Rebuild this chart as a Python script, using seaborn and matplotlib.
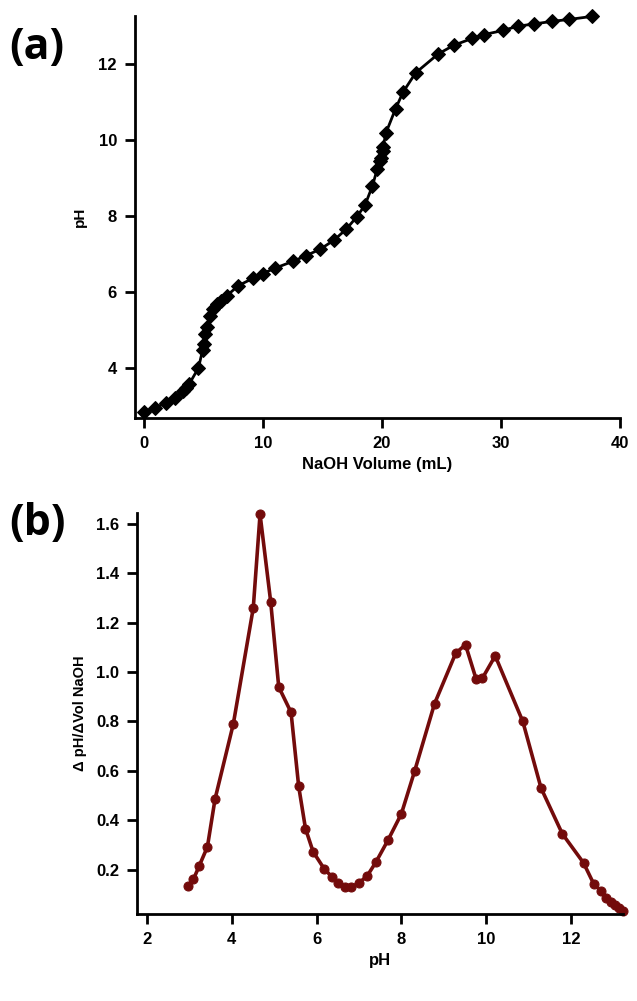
import pandas as pd
import matplotlib.pyplot as plt
import seaborn as sns
from matplotlib.ticker import FormatStrFormatter

sns.set_style("ticks")
plt.rcParams['font.family'] = ['Liberation Sans', 'DejaVu Sans']
plt.rcParams['text.color'] = 'black'
plt.rcParams['axes.labelcolor'] = 'black'
plt.rcParams['xtick.color'] = 'black'
plt.rcParams['ytick.color'] = 'black'

# (a) titration curve
naoh_volume = [0.0, 0.92, 1.85, 2.6, 3.3, 3.55, 3.8, 4.57, 4.93, 5.04, 5.13, 5.32, 5.55, 5.83,
               6.16, 6.44, 6.94, 7.92, 9.13, 9.97, 11.0, 12.5, 13.6, 14.8, 15.97, 17.0, 17.87,
               18.57, 19.2, 19.6, 19.83, 19.9, 20.05, 20.1, 20.34, 21.15, 21.79, 22.83, 24.73,
               26.05, 27.6, 28.57, 30.2, 31.4, 32.77, 34.34, 35.74, 37.67]
ph_curve = [2.83, 2.94, 3.07, 3.2, 3.38, 3.47, 3.57, 3.99, 4.47, 4.62, 4.89, 5.06, 5.37, 5.54,
            5.68, 5.76, 5.89, 6.16, 6.35, 6.48, 6.62, 6.8, 6.95, 7.12, 7.36, 7.65, 7.97,
            8.28, 8.79, 9.23, 9.45, 9.52, 9.71, 9.82, 10.19, 10.83, 11.27, 11.77, 12.27,
            12.5, 12.68, 12.78, 12.89, 13.0, 13.06, 13.13, 13.18, 13.26]

# (b) first derivative vs pH
ph_mid = [2.98, 3.10, 3.24, 3.43, 3.61, 4.04, 4.51, 4.67, 4.92, 5.11, 5.40, 5.58, 5.74, 5.92,
          6.18, 6.37, 6.51, 6.67, 6.82, 7.0, 7.19, 7.40, 7.69, 8.0, 8.31, 8.78, 9.28, 9.51,
          9.76, 9.91, 10.21, 10.86, 11.29, 11.79, 12.29, 12.53, 12.71, 12.82, 12.94, 13.04,
          13.12, 13.21]
dph_dvol = [0.132, 0.16, 0.216, 0.292, 0.486, 0.79, 1.26, 1.64, 1.286, 0.94, 0.837, 0.537,
            0.366, 0.272, 0.203, 0.169, 0.146, 0.128, 0.128, 0.146, 0.173, 0.23, 0.321, 0.426,
            0.598, 0.872, 1.077, 1.111, 0.972, 0.976, 1.066, 0.80, 0.53, 0.345, 0.227, 0.142,
            0.112, 0.085, 0.069, 0.056, 0.045, 0.031]

df_a = pd.DataFrame({'vol': naoh_volume, 'ph': ph_curve})
df_b = pd.DataFrame({'ph': ph_mid, 'd': dph_dvol})

fig = plt.figure(figsize=(6.37, 10.01), dpi=100)
ax1 = fig.add_axes([0.212, 0.582, 0.761, 0.402])
ax2 = fig.add_axes([0.215, 0.087, 0.763, 0.4005])

sns.lineplot(data=df_a, x='vol', y='ph', ax=ax1, sort=False, color='black', linewidth=2,
             marker='D', markersize=7, markeredgecolor='black', clip_on=False)
sns.lineplot(data=df_b, x='ph', y='d', ax=ax2, sort=False, color='#730b0b', linewidth=2.6,
             marker='o', markersize=6.5, markeredgecolor='#730b0b', clip_on=False)

ax1.set_xlim(-0.76, 40)
ax1.set_ylim(2.66, 13.27)
ax1.set_xticks([0, 10, 20, 30, 40])
ax1.set_yticks([4, 6, 8, 10, 12])
ax1.set_xlabel('NaOH Volume (mL)', fontsize=12, fontweight='bold', labelpad=4)
ax1.set_ylabel('pH', fontsize=11, fontweight='bold', labelpad=8)

ax2.set_xlim(1.77, 13.22)
ax2.set_ylim(0.02, 1.645)
ax2.set_xticks([2, 4, 6, 8, 10, 12])
ax2.set_yticks([0.2, 0.4, 0.6, 0.8, 1.0, 1.2, 1.4, 1.6])
ax2.yaxis.set_major_formatter(FormatStrFormatter('%.1f'))
ax2.set_xlabel('pH', fontsize=12, fontweight='bold', labelpad=4)
ax2.set_ylabel('\u0394 pH/\u0394Vol NaOH', fontsize=10.5, fontweight='bold', labelpad=6)

for ax in (ax1, ax2):
    sns.despine(ax=ax)
    for side in ('left', 'bottom'):
        ax.spines[side].set_linewidth(2)
        ax.spines[side].set_color('black')
    ax.tick_params(axis='both', length=7, width=2, labelsize=12, pad=6, color='black',
                   labelcolor='black')
    for lab in ax.get_xticklabels() + ax.get_yticklabels():
        lab.set_fontweight('bold')

fig.text(0.014, 0.941, '(a)', fontsize=31, fontweight='bold', color='black',
         family=['Open Sans', 'DejaVu Sans'])
fig.text(0.014, 0.466, '(b)', fontsize=31, fontweight='bold', color='black',
         family=['Open Sans', 'DejaVu Sans'])

fig.savefig('out.png', dpi=100)
